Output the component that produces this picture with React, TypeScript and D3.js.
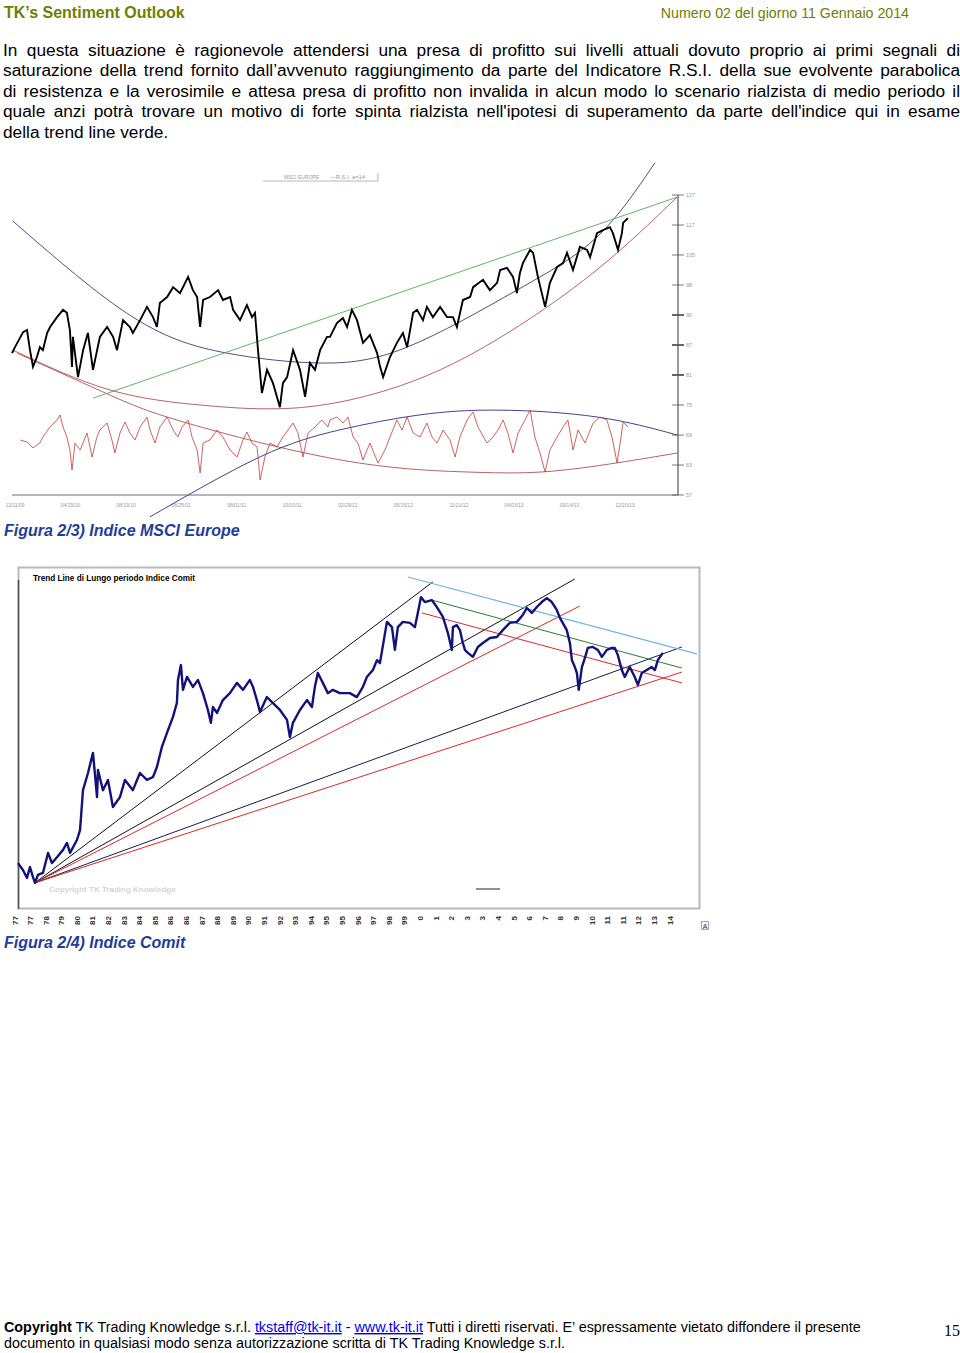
import React, { useRef, useLayoutEffect } from "react";
import * as d3 from "d3";

// ---------------- Text content ----------------
const headerTitle = "TK’s Sentiment Outlook";
const headerIssue = "Numero 02 del giorno 11 Gennaio 2014";
const paragraphLines = [
  "In questa situazione è ragionevole attendersi una presa di profitto sui livelli attuali dovuto proprio ai primi segnali di",
  "saturazione della trend fornito dall’avvenuto raggiungimento da parte del Indicatore R.S.I. della sue evolvente parabolica",
  "di resistenza e la verosimile e attesa presa di profitto non invalida in alcun modo lo scenario rialzista di medio periodo il",
  "quale anzi potrà trovare un motivo di forte spinta rialzista nell'ipotesi di superamento da parte dell'indice qui in esame",
  "della trend line verde.",
];
const caption1 = "Figura 2/3) Indice MSCI Europe";
const caption2 = "Figura 2/4) Indice Comit";

// ---------------- Chart 1: MSCI Europe ----------------
const msciYTickLabels = ["57", "63", "69", "75", "81", "87", "90", "98", "105", "117", "127"];
const msciYTickValues = [57, 64, 71, 78, 85, 92, 99, 106, 113, 120, 127];
const msciBoldTicks = ["90", "87", "81"];
const msciDateLabels = ["12/11/09", "04/29/10", "08/19/10", "06/25/11", "08/01/11", "10/10/11", "02/29/12", "05/15/12", "11/21/12", "04/03/13", "09/14/13", "12/20/13"];
const msciDateT = [1, 19.5, 38, 56.4, 74.9, 93.4, 111.9, 130.4, 148.9, 167.3, 185.8, 204.3];

// [week index, level]
const msciPrice: [number, number][] = [
  [0, 90.1], [1, 91.5], [3.7, 95.0], [5, 95.5], [6, 90.8], [7, 86.9], [8.3, 89.2], [9.3, 91.5], [10.3, 90.8], [11.7, 94.8], [12.7, 96.2], [15, 98.5], [17, 100.2], [18.3, 99.5], [19.3, 95.5], [20, 86.9], [20.3, 93.9], [22, 84.5], [23.7, 90.8], [25.3, 94.8], [27, 86.2], [29.3, 93.9], [31.7, 96.2], [33.7, 93.9], [35, 90.8], [37, 97.8], [39.3, 96.2], [40.3, 94.8], [42.7, 97.8], [45, 100.9], [47, 98.5], [48.3, 96.2], [49.3, 101.8], [51.7, 103.2], [53.7, 105.5], [56, 104.1], [58.7, 107.9], [60.3, 104.8], [61.7, 103.2], [62.7, 96.2], [63.7, 102.5], [66, 103.2], [68.7, 104.8], [70.3, 102.5], [72.7, 103.2], [73.7, 100.2], [76, 97.8], [78.3, 101.3], [80, 98.5], [81, 99.5], [82, 90.8], [83.3, 80.8], [85, 86.2], [87, 83.1], [89.3, 77.5], [90.3, 83.1], [91.7, 84.5], [93.7, 90.8], [96, 86.2], [97.7, 79.9], [99.3, 87.8], [101, 86.2], [102.7, 90.8], [105, 93.9], [106, 93.9], [108.3, 97.1], [110.3, 98.3], [111.7, 96.2], [113.3, 100.2], [115, 97.8], [117, 92.5], [119.3, 94.3], [121.7, 90.1], [122.7, 86.9], [123.7, 84.5], [126, 89.2], [128.3, 92.5], [130.3, 94.8], [131.7, 91.5], [133.7, 99.5], [135, 100.2], [137, 97.8], [138.3, 100.9], [140.3, 98.5], [142.7, 100.9], [145, 98.5], [147, 98.5], [148.3, 96.2], [150.3, 102.5], [152.7, 103.2], [153.7, 105.5], [157, 107.2], [159.3, 104.8], [161.7, 106.5], [162.7, 109.5], [165, 110.0], [167, 107.9], [168.3, 104.1], [169.3, 108.8], [170.3, 111.1], [172.7, 114.2], [173.7, 113.5], [175.3, 107.9], [177.7, 100.9], [179.3, 106.5], [181.7, 110.2], [183.7, 111.1], [185, 113.5], [187, 109.5], [189.3, 114.9], [191.7, 114.2], [192.7, 112.5], [195, 118.1], [197, 118.8], [199.3, 119.5], [200.3, 118.1], [202, 114.2], [203.3, 118.1], [203.7, 120.5], [205.3, 121.6],
];

// [week index, RSI]
const msciRsi: [number, number][] = [
  [2.7, 53.6], [5, 52.1], [7, 47.9], [9.3, 51.4], [10.3, 55.7], [12.7, 62.9], [15, 67.9], [16, 71.4], [17, 62.9], [18.3, 55.7], [19.3, 46.4], [20, 32.1], [21, 51.4], [22.7, 46.4], [25, 58.6], [26.7, 41.4], [28.3, 55.7], [29.3, 60.7], [31.7, 65.7], [33.3, 53.6], [34.3, 44.3], [36, 58.6], [37.7, 66.4], [39.3, 58.6], [41, 53.6], [42.7, 62.9], [45, 70], [46, 60.7], [47.7, 51.4], [49.3, 62.9], [51.7, 70], [53.7, 60.7], [55.3, 55.7], [56.7, 62.9], [58.7, 67.9], [60, 55.7], [61.7, 46.4], [62.7, 30], [63.7, 51.4], [66, 53.6], [68.3, 60.7], [70.3, 55.7], [72.7, 46.4], [75, 41.4], [77, 53.6], [78.3, 59.3], [80, 51.4], [81.7, 48.6], [82.7, 25], [84.3, 41.4], [86, 51.4], [88.3, 48.6], [90.3, 55.7], [92, 60.7], [93.7, 65.7], [95.3, 58.6], [97, 41.4], [98.7, 58.6], [101, 62.9], [103.3, 67.9], [105.3, 62.9], [106, 67.9], [108.3, 70], [110.3, 65.7], [112, 70], [113.7, 55.7], [115.3, 51.4], [117, 39.3], [119.3, 51.4], [122, 37.1], [124.3, 46.4], [126, 55.7], [128.3, 67.9], [130, 60.7], [131.7, 70], [133.7, 58.6], [136, 55.7], [138.3, 65.7], [140, 55.7], [141.7, 51.4], [143.7, 60.7], [146, 53.6], [147.7, 41.4], [149.3, 55.7], [151.7, 67.9], [153.7, 73.6], [155.3, 62.9], [158.3, 51.4], [160.3, 55.7], [162, 60.7], [163.7, 67.9], [165.3, 58.6], [167, 44.3], [168.7, 58.6], [171, 67.9], [172.7, 75], [174.3, 55.7], [176, 44.3], [177.7, 30.7], [179.3, 46.4], [181.7, 55.7], [183.7, 62.9], [185.3, 67.9], [187, 46.4], [188.7, 60.7], [191, 51.4], [193.7, 65.7], [196, 70], [198.3, 67.9], [200, 55.7], [201.7, 37.1], [203, 55.7], [203.7, 66.4], [205.3, 62.9],
];

// Parabolic/linear study curves, points read in [week, level]
const msciArcUpper: [number, number][] = [[0.3, 120.9], [40.3, 98.5], [71.7, 90.1], [102.7, 87.8], [131.7, 91.5], [168.3, 104.8], [195, 117.2], [214.3, 134.5]];
const msciArcSupport: [number, number][] = [[0.3, 90.8], [32.7, 81.5], [62.7, 78.0], [85, 77.1], [109.3, 78.7], [142.7, 86.2], [177, 100.2], [201.7, 113.5], [221.7, 126.5]];
const msciArcRsiLow: [number, number][] = [[1.7, 90.1], [32.7, 80.3], [58.3, 73.8], [109.3, 65.2], [150.3, 62.4], [177, 62.4], [201.7, 64.5], [221.7, 66.8]];
const msciArcRsiHigh: [number, number][] = [[46, 51.9], [82.7, 65.9], [109.3, 72.2], [136, 75.7], [162.7, 76.8], [195, 75.2], [221.7, 71.0]];
const msciGreenLine: [number, number][] = [[27, 79.6], [221.7, 126.5]];

// ---------------- Chart 2: Comit ----------------
const comitYearLabels = ["77", "77", "78", "79", "80", "81", "82", "83", "84", "85", "86", "86", "87", "88", "89", "90", "91", "92", "93", "94", "95", "95", "96", "97", "98", "99", "0", "1", "2", "3", "3", "4", "5", "6", "7", "8", "9", "10", "11", "11", "12", "13", "14"];

// [label index, index level]
const comitPrice: [number, number][] = [
  [0.19, 12.7], [0.51, 10.6], [0.77, 8.2], [0.96, 11.5], [1.15, 8.5], [1.28, 6.7], [1.47, 9.1], [1.79, 9.7], [2.12, 15.8], [2.37, 12.7], [2.69, 14.5], [3.08, 16.7], [3.33, 18.8], [3.53, 15.8], [3.97, 19.7], [4.17, 22.7], [4.36, 34.8], [4.68, 40.0], [5.0, 46.1], [5.26, 32.7], [5.32, 40.9], [5.64, 34.8], [5.96, 37.9], [6.28, 29.7], [6.73, 32.7], [7.05, 37.9], [7.56, 34.8], [8.01, 40.0], [8.46, 37.9], [8.85, 38.8], [9.10, 41.8], [9.42, 47.9], [9.74, 52.1], [10.13, 57.0], [10.38, 61.2], [10.45, 68.2], [10.64, 72.7], [10.77, 65.2], [11.03, 69.1], [11.41, 66.1], [11.73, 68.2], [12.05, 64.2], [12.37, 59.1], [12.56, 55.2], [12.69, 60.0], [12.95, 58.2], [13.33, 62.1], [13.78, 64.2], [14.23, 67.3], [14.62, 65.2], [15.06, 68.2], [15.26, 66.1], [15.51, 62.1], [15.71, 58.5], [16.15, 63.0], [16.54, 61.2], [16.99, 59.1], [17.44, 56.1], [17.63, 50.9], [17.82, 55.2], [18.27, 59.1], [18.72, 62.1], [19.04, 60.0], [19.23, 66.1], [19.42, 70.3], [19.74, 67.3], [20.06, 64.2], [20.38, 65.2], [20.83, 64.2],
  [21.47, 64.2], [21.92, 63.0], [22.31, 66.1], [22.56, 69.1], [22.95, 71.2], [23.21, 74.2], [23.40, 73.3], [23.85, 85.8], [24.17, 84.2], [24.36, 77.3], [24.55, 84.2], [24.87, 85.8], [25.32, 85.5], [25.64, 84.2], [25.83, 88.5], [26.03, 93.3], [26.28, 91.8], [26.73, 92.4], [27.05, 90.3], [27.44, 87.3], [27.76, 82.4], [28.01, 77.3], [28.08, 84.2], [28.33, 84.8], [28.53, 83.3], [28.72, 79.4], [28.85, 77.3], [29.04, 76.4], [29.36, 75.2], [29.68, 78.2], [30.0, 79.4], [30.45, 80.9], [30.90, 81.2], [31.28, 83.3], [31.73, 85.5], [32.18, 85.8], [32.56, 87.9], [32.82, 90.0], [33.14, 88.5], [33.46, 90.3], [33.78, 91.8], [34.10, 93.0], [34.42, 91.8], [34.74, 89.4], [34.94, 87.0], [35.38, 83.3], [35.58, 79.4], [35.71, 74.2], [35.90, 72.1], [36.03, 70.3], [36.15, 65.2], [36.35, 72.1], [36.54, 74.8], [36.73, 77.9], [37.05, 78.2], [37.37, 77.3], [37.63, 75.2], [37.95, 77.3], [38.27, 77.9], [38.46, 77.9], [38.65, 75.8], [38.91, 71.2], [39.10, 69.1], [39.42, 72.1], [39.74, 69.1], [39.94, 66.7], [40.19, 70.3], [40.51, 71.2], [40.83, 72.1], [41.03, 71.2], [41.22, 74.2], [41.54, 76.4],
];

// Trend lines [start, end] in [label index, level]
const comitFanSteep: [number, number][] = [[1.28, 6.7], [26.79, 97.9]];
const comitFanMid: [number, number][] = [[1.28, 6.7], [35.9, 98.8]];
const comitFanMidRed: [number, number][] = [[1.28, 6.7], [36.22, 90.6]];
const comitFanLow: [number, number][] = [[1.28, 6.7], [42.76, 78.2]];
const comitFanLowRed: [number, number][] = [[1.28, 6.7], [42.76, 70.6]];
const comitResistBlue: [number, number][] = [[25.19, 99.4], [43.72, 76.1]];
const comitResistGreen: [number, number][] = [[26.73, 92.4], [42.76, 71.8]];
const comitResistRed: [number, number][] = [[26.09, 88.5], [42.76, 67.3]];

const footerLine2 = "documento in qualsiasi modo senza autorizzazione scritta di TK Trading Knowledge s.r.l.";

const SANS = "'Liberation Sans', Arial, Helvetica, sans-serif";

function JustifiedLine({ x, y, width, text, justify, size }: { x: number; y: number; width: number; text: string; justify: boolean; size: number }) {
  const ref = useRef<SVGTextElement>(null);
  useLayoutEffect(() => {
    const el = ref.current;
    if (!el || !justify) return;
    el.style.wordSpacing = "0px";
    const w = el.getComputedTextLength();
    const spaces = (text.match(/ /g) || []).length;
    if (spaces > 0) el.style.wordSpacing = `${(width - w) / spaces}px`;
  }, [text, width, justify]);
  return (
    <text ref={ref} x={x} y={y} fontSize={size} fill="#000" fontFamily={SANS}>
      {text}
    </text>
  );
}

function MsciChart() {
  const x = d3.scaleLinear().domain([0, 222]).range([12, 678]);
  const y = d3.scaleLinear().domain([57, 127]).range([495, 195]);
  const yr = d3.scaleLinear().domain([25, 75]).range([480, 410]);
  const priceLine = d3.line<[number, number]>().x((d) => x(d[0])).y((d) => y(d[1]));
  const rsiLine = d3.line<[number, number]>().x((d) => x(d[0])).y((d) => yr(d[1]));
  const curve = d3.line<[number, number]>().x((d) => x(d[0])).y((d) => y(d[1])).curve(d3.curveNatural);
  const axisX = x(222);
  return (
    <g>
      {/* legend */}
      <line x1={263} y1={181} x2={378} y2={181} stroke="#b8b8b8" strokeWidth={1} />
      <line x1={378} y1={173} x2={378} y2={181} stroke="#b8b8b8" strokeWidth={1} />
      <text x={284} y={179} fontSize={5} fill="#9a9a9a" fontFamily={SANS}>MSCI EUROPE</text>
      <text x={330} y={179} fontSize={5.8} fill="#9a9a9a" fontFamily={SANS}>—R.S.I. a=14</text>

      {/* axes */}
      <line x1={x(0)} y1={y(57)} x2={axisX} y2={y(57)} stroke="#6d6d6d" strokeWidth={1} />
      <line x1={axisX} y1={y(127)} x2={axisX} y2={y(57)} stroke="#555" strokeWidth={1.2} />
      {msciYTickValues.map((v, i) => (
        <g key={i}>
          <line x1={axisX - 6} x2={axisX + 6} y1={y(v)} y2={y(v)} stroke="#555" strokeWidth={msciBoldTicks.includes(msciYTickLabels[i]) ? 1.8 : 0.8} />
          <text x={axisX + 8} y={y(v)} dy="0.35em" fontSize={5.5} fill="#9a9a9a" fontFamily={SANS}>{msciYTickLabels[i]}</text>
        </g>
      ))}
      {msciDateLabels.map((lab, i) => (
        <text key={lab} x={x(msciDateT[i])} y={507} fontSize={5} fill="#9a9a9a" textAnchor="middle" fontFamily={SANS}>{lab}</text>
      ))}

      {/* study curves */}
      <path d={curve(msciArcUpper) || ""} fill="none" stroke="#3a3a78" strokeWidth={0.9} />
      <path d={curve(msciArcSupport) || ""} fill="none" stroke="#b05050" strokeWidth={0.9} />
      <path d={curve(msciArcRsiLow) || ""} fill="none" stroke="#b05050" strokeWidth={0.9} />
      <path d={curve(msciArcRsiHigh) || ""} fill="none" stroke="#2c2c80" strokeWidth={0.9} />
      <path d={priceLine(msciGreenLine) || ""} fill="none" stroke="#4fae4f" strokeWidth={0.9} />

      {/* RSI */}
      <path d={rsiLine(msciRsi) || ""} fill="none" stroke="#c43a3a" strokeWidth={0.8} />
      {/* price */}
      <path d={priceLine(msciPrice) || ""} fill="none" stroke="#000" strokeWidth={1.9} strokeLinejoin="miter" />
    </g>
  );
}

function ComitChart() {
  const x = d3.scaleLinear().domain([0, 42]).range([15, 670]);
  const y = d3.scaleLinear().domain([0, 100]).range([905, 575]);
  const line = d3.line<[number, number]>().x((d) => x(d[0])).y((d) => y(d[1]));
  const seg = (d: [number, number][], color: string, w = 1) => <path d={line(d) || ""} fill="none" stroke={color} strokeWidth={w} />;
  return (
    <g>
      <rect x={18.5} y={567.5} width={681} height={341} fill="#fff" stroke="#b9b9b9" strokeWidth={2} />
      <line x1={18.5} y1={580} x2={18.5} y2={909} stroke="#555" strokeWidth={1.5} />
      <text x={33} y={581} fontSize={8.2} fontWeight="bold" fill="#000" fontFamily={SANS}>Trend Line di Lungo periodo Indice Comit</text>
      <text x={49} y={892} fontSize={8} fontWeight="bold" fill="#d6d6d6" fontFamily={SANS}>Copyright TK Trading Knowledge</text>
      <line x1={476} y1={889} x2={500} y2={889} stroke="#222" strokeWidth={1} />

      {seg(comitFanSteep, "#111")}
      {seg(comitFanMid, "#111")}
      {seg(comitFanMidRed, "#d42a2a")}
      {seg(comitFanLow, "#1a1a50")}
      {seg(comitFanLowRed, "#d42a2a")}
      {seg(comitResistBlue, "#6cb6e0", 1.1)}
      {seg(comitResistGreen, "#2e7a2e")}
      {seg(comitResistRed, "#d42a2a")}

      <path d={line(comitPrice) || ""} fill="none" stroke="#12127a" strokeWidth={2.4} strokeLinejoin="round" />

      {comitYearLabels.map((lab, i) => (
        <text key={i} transform={`translate(${x(i)},916) rotate(-90)`} textAnchor="end" dominantBaseline="central" fontSize={8} fontWeight="bold" fill="#333" fontFamily={SANS}>{lab}</text>
      ))}
      <rect x={701.5} y={921.5} width={7} height={8} fill="#f4f4f4" stroke="#999" strokeWidth={0.8} />
      <text x={705} y={928.5} fontSize={7} textAnchor="middle" fill="#335" fontFamily={SANS}>A</text>
    </g>
  );
}

export default function App() {
  return (
    <svg width={960} height={1353} style={{ position: "absolute", left: 0, top: 0, background: "#fff", display: "block" }}>
      <rect x={0} y={0} width={960} height={1353} fill="#fff" />
      <text x={4} y={18} fontSize={16} fontWeight="bold" fill="#6d8000" fontFamily={SANS}>{headerTitle}</text>
      <text x={909} y={18} fontSize={14.2} fill="#6d8000" textAnchor="end" fontFamily={SANS}>{headerIssue}</text>

      {paragraphLines.map((t, i) => (
        <JustifiedLine key={i} x={3} y={56 + i * 20.4} width={957} text={t} size={17.3} justify={i < paragraphLines.length - 1} />
      ))}

      <MsciChart />
      <text x={4} y={536} fontSize={16} fontWeight="bold" fontStyle="italic" fill="#1f3d99" fontFamily={SANS}>{caption1}</text>

      <ComitChart />
      <text x={4} y={948} fontSize={16} fontWeight="bold" fontStyle="italic" fill="#1f3d99" fontFamily={SANS}>{caption2}</text>

      <text x={4} y={1332} fontSize={14.35} fill="#000" fontFamily={SANS}>
        <tspan fontWeight="bold">Copyright</tspan> TK Trading Knowledge s.r.l.{" "}
        <tspan fill="#0000ee" textDecoration="underline">tkstaff@tk-it.it</tspan> -{" "}
        <tspan fill="#0000ee" textDecoration="underline">www.tk-it.it</tspan> Tutti i diretti riservati. E’ espressamente vietato diffondere il presente
      </text>
      <text x={4} y={1348} fontSize={14.35} fill="#000" fontFamily={SANS}>{footerLine2}</text>
      <text x={944} y={1336} fontSize={16} fill="#000" fontFamily="'Liberation Serif', 'Times New Roman', serif">15</text>
    </svg>
  );
}
